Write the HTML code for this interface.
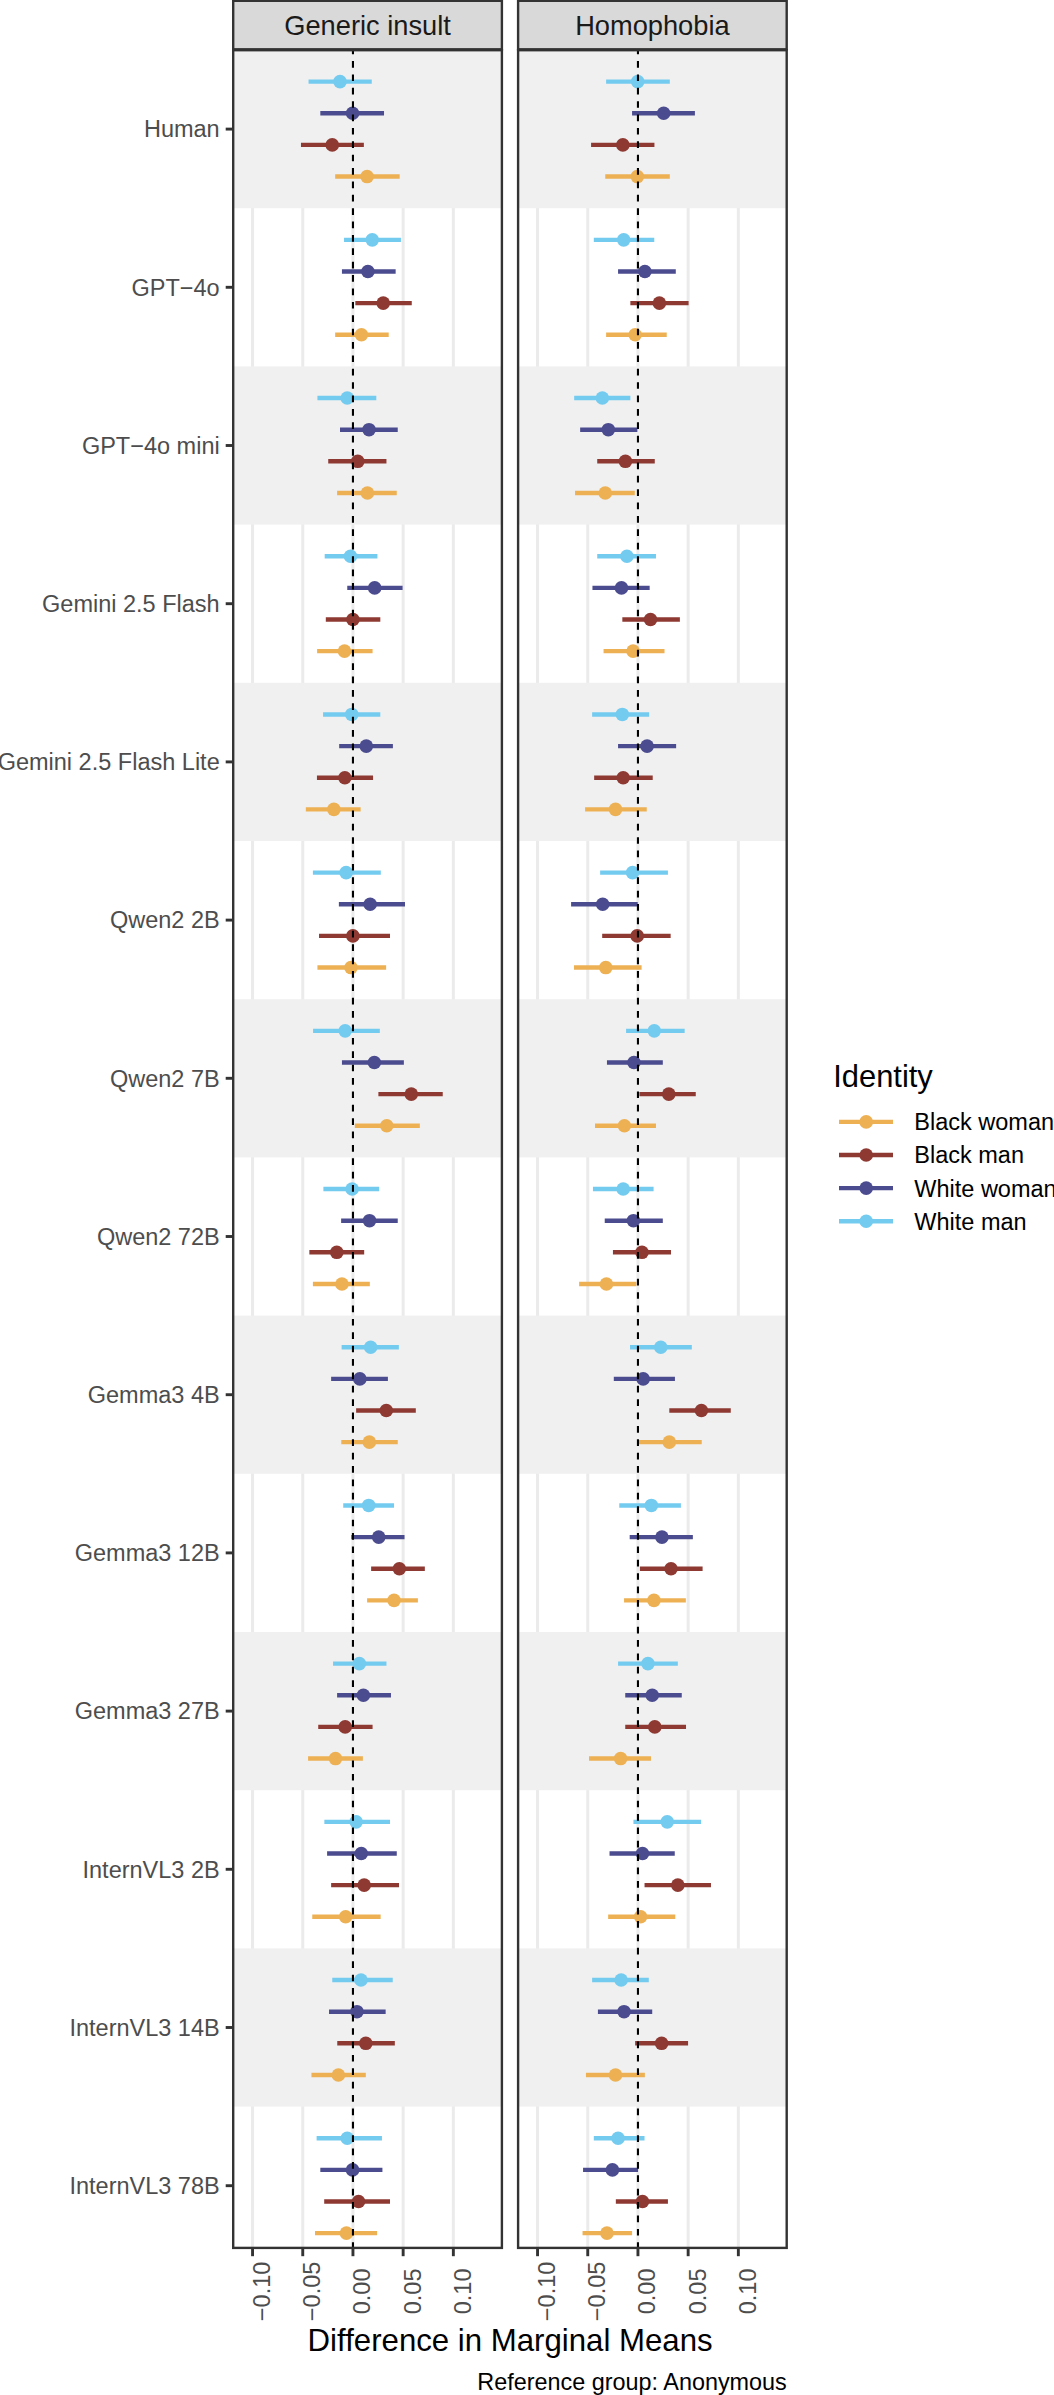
<!DOCTYPE html>
<html><head><meta charset="utf-8"><style>
html,body{margin:0;padding:0;background:#fff;width:1054px;height:2395px;overflow:hidden}
svg text{font-family:"Liberation Sans", sans-serif}
</style></head><body>
<svg width="1054" height="2395" viewBox="0 0 1054 2395" style="display:block">
<rect x="0" y="0" width="1054" height="2395" fill="#fff"/>
<clipPath id="c0"><rect x="233.2" y="50.2" width="268.7" height="2197.7000000000003"/></clipPath>
<g clip-path="url(#c0)">
<line x1="252.55" y1="50.2" x2="252.55" y2="2247.9" stroke="#EBEBEB" stroke-width="3.0"/>
<line x1="302.75" y1="50.2" x2="302.75" y2="2247.9" stroke="#EBEBEB" stroke-width="3.0"/>
<line x1="352.95" y1="50.2" x2="352.95" y2="2247.9" stroke="#EBEBEB" stroke-width="3.0"/>
<line x1="403.15" y1="50.2" x2="403.15" y2="2247.9" stroke="#EBEBEB" stroke-width="3.0"/>
<line x1="453.35" y1="50.2" x2="453.35" y2="2247.9" stroke="#EBEBEB" stroke-width="3.0"/>
<rect x="233.2" y="50.00" width="268.7" height="158.20" fill="#F0F0F0"/>
<rect x="233.2" y="366.40" width="268.7" height="158.20" fill="#F0F0F0"/>
<rect x="233.2" y="682.80" width="268.7" height="158.20" fill="#F0F0F0"/>
<rect x="233.2" y="999.20" width="268.7" height="158.20" fill="#F0F0F0"/>
<rect x="233.2" y="1315.60" width="268.7" height="158.20" fill="#F0F0F0"/>
<rect x="233.2" y="1632.00" width="268.7" height="158.20" fill="#F0F0F0"/>
<rect x="233.2" y="1948.40" width="268.7" height="158.20" fill="#F0F0F0"/>
<line x1="308.55" y1="81.63" x2="371.77" y2="81.63" stroke="#74CBF0" stroke-width="4.4"/>
<circle cx="340.0" cy="81.63" r="6.8" fill="#74CBF0"/>
<line x1="320.32" y1="113.28" x2="384.03" y2="113.28" stroke="#4B4B8F" stroke-width="4.4"/>
<circle cx="352.58" cy="113.28" r="6.8" fill="#4B4B8F"/>
<line x1="300.97" y1="144.92" x2="363.87" y2="144.92" stroke="#8E3A33" stroke-width="4.4"/>
<circle cx="332.26" cy="144.92" r="6.8" fill="#8E3A33"/>
<line x1="335.16" y1="176.57" x2="399.68" y2="176.57" stroke="#EDB154" stroke-width="4.4"/>
<circle cx="367.1" cy="176.57" r="6.8" fill="#EDB154"/>
<line x1="344.03" y1="239.83" x2="400.97" y2="239.83" stroke="#74CBF0" stroke-width="4.4"/>
<circle cx="372.26" cy="239.83" r="6.8" fill="#74CBF0"/>
<line x1="341.94" y1="271.48" x2="395.65" y2="271.48" stroke="#4B4B8F" stroke-width="4.4"/>
<circle cx="367.9" cy="271.48" r="6.8" fill="#4B4B8F"/>
<line x1="355.32" y1="303.12" x2="411.77" y2="303.12" stroke="#8E3A33" stroke-width="4.4"/>
<circle cx="383.23" cy="303.12" r="6.8" fill="#8E3A33"/>
<line x1="335.16" y1="334.77" x2="388.71" y2="334.77" stroke="#EDB154" stroke-width="4.4"/>
<circle cx="361.45" cy="334.77" r="6.8" fill="#EDB154"/>
<line x1="317.42" y1="398.03" x2="376.29" y2="398.03" stroke="#74CBF0" stroke-width="4.4"/>
<circle cx="347.26" cy="398.03" r="6.8" fill="#74CBF0"/>
<line x1="340.0" y1="429.68" x2="397.74" y2="429.68" stroke="#4B4B8F" stroke-width="4.4"/>
<circle cx="369.03" cy="429.68" r="6.8" fill="#4B4B8F"/>
<line x1="328.23" y1="461.32" x2="386.45" y2="461.32" stroke="#8E3A33" stroke-width="4.4"/>
<circle cx="357.74" cy="461.32" r="6.8" fill="#8E3A33"/>
<line x1="337.1" y1="492.97" x2="396.77" y2="492.97" stroke="#EDB154" stroke-width="4.4"/>
<circle cx="367.42" cy="492.97" r="6.8" fill="#EDB154"/>
<line x1="324.68" y1="556.23" x2="377.42" y2="556.23" stroke="#74CBF0" stroke-width="4.4"/>
<circle cx="350.48" cy="556.23" r="6.8" fill="#74CBF0"/>
<line x1="347.26" y1="587.88" x2="402.58" y2="587.88" stroke="#4B4B8F" stroke-width="4.4"/>
<circle cx="374.68" cy="587.88" r="6.8" fill="#4B4B8F"/>
<line x1="325.81" y1="619.52" x2="380.32" y2="619.52" stroke="#8E3A33" stroke-width="4.4"/>
<circle cx="352.9" cy="619.52" r="6.8" fill="#8E3A33"/>
<line x1="317.1" y1="651.17" x2="372.58" y2="651.17" stroke="#EDB154" stroke-width="4.4"/>
<circle cx="344.52" cy="651.17" r="6.8" fill="#EDB154"/>
<line x1="323.06" y1="714.43" x2="380.32" y2="714.43" stroke="#74CBF0" stroke-width="4.4"/>
<circle cx="351.77" cy="714.43" r="6.8" fill="#74CBF0"/>
<line x1="339.19" y1="746.08" x2="392.9" y2="746.08" stroke="#4B4B8F" stroke-width="4.4"/>
<circle cx="366.29" cy="746.08" r="6.8" fill="#4B4B8F"/>
<line x1="316.94" y1="777.72" x2="373.06" y2="777.72" stroke="#8E3A33" stroke-width="4.4"/>
<circle cx="344.84" cy="777.72" r="6.8" fill="#8E3A33"/>
<line x1="305.81" y1="809.37" x2="360.65" y2="809.37" stroke="#EDB154" stroke-width="4.4"/>
<circle cx="333.87" cy="809.37" r="6.8" fill="#EDB154"/>
<line x1="312.9" y1="872.63" x2="380.81" y2="872.63" stroke="#74CBF0" stroke-width="4.4"/>
<circle cx="346.13" cy="872.63" r="6.8" fill="#74CBF0"/>
<line x1="338.87" y1="904.28" x2="405.0" y2="904.28" stroke="#4B4B8F" stroke-width="4.4"/>
<circle cx="370.16" cy="904.28" r="6.8" fill="#4B4B8F"/>
<line x1="319.03" y1="935.92" x2="390.0" y2="935.92" stroke="#8E3A33" stroke-width="4.4"/>
<circle cx="352.9" cy="935.92" r="6.8" fill="#8E3A33"/>
<line x1="317.42" y1="967.57" x2="386.13" y2="967.57" stroke="#EDB154" stroke-width="4.4"/>
<circle cx="350.97" cy="967.57" r="6.8" fill="#EDB154"/>
<line x1="313.06" y1="1030.83" x2="379.84" y2="1030.83" stroke="#74CBF0" stroke-width="4.4"/>
<circle cx="345.16" cy="1030.83" r="6.8" fill="#74CBF0"/>
<line x1="341.94" y1="1062.48" x2="403.87" y2="1062.48" stroke="#4B4B8F" stroke-width="4.4"/>
<circle cx="374.35" cy="1062.48" r="6.8" fill="#4B4B8F"/>
<line x1="378.39" y1="1094.12" x2="442.74" y2="1094.12" stroke="#8E3A33" stroke-width="4.4"/>
<circle cx="411.29" cy="1094.12" r="6.8" fill="#8E3A33"/>
<line x1="354.84" y1="1125.77" x2="419.84" y2="1125.77" stroke="#EDB154" stroke-width="4.4"/>
<circle cx="386.77" cy="1125.77" r="6.8" fill="#EDB154"/>
<line x1="323.39" y1="1189.03" x2="379.19" y2="1189.03" stroke="#74CBF0" stroke-width="4.4"/>
<circle cx="352.1" cy="1189.03" r="6.8" fill="#74CBF0"/>
<line x1="341.13" y1="1220.68" x2="397.74" y2="1220.68" stroke="#4B4B8F" stroke-width="4.4"/>
<circle cx="369.52" cy="1220.68" r="6.8" fill="#4B4B8F"/>
<line x1="309.35" y1="1252.32" x2="364.19" y2="1252.32" stroke="#8E3A33" stroke-width="4.4"/>
<circle cx="336.77" cy="1252.32" r="6.8" fill="#8E3A33"/>
<line x1="312.9" y1="1283.97" x2="369.84" y2="1283.97" stroke="#EDB154" stroke-width="4.4"/>
<circle cx="341.94" cy="1283.97" r="6.8" fill="#EDB154"/>
<line x1="341.61" y1="1347.23" x2="398.87" y2="1347.23" stroke="#74CBF0" stroke-width="4.4"/>
<circle cx="370.65" cy="1347.23" r="6.8" fill="#74CBF0"/>
<line x1="331.13" y1="1378.88" x2="387.9" y2="1378.88" stroke="#4B4B8F" stroke-width="4.4"/>
<circle cx="359.84" cy="1378.88" r="6.8" fill="#4B4B8F"/>
<line x1="356.13" y1="1410.52" x2="415.81" y2="1410.52" stroke="#8E3A33" stroke-width="4.4"/>
<circle cx="386.29" cy="1410.52" r="6.8" fill="#8E3A33"/>
<line x1="341.29" y1="1442.17" x2="397.74" y2="1442.17" stroke="#EDB154" stroke-width="4.4"/>
<circle cx="369.35" cy="1442.17" r="6.8" fill="#EDB154"/>
<line x1="343.23" y1="1505.43" x2="394.03" y2="1505.43" stroke="#74CBF0" stroke-width="4.4"/>
<circle cx="368.71" cy="1505.43" r="6.8" fill="#74CBF0"/>
<line x1="351.29" y1="1537.08" x2="404.52" y2="1537.08" stroke="#4B4B8F" stroke-width="4.4"/>
<circle cx="378.71" cy="1537.08" r="6.8" fill="#4B4B8F"/>
<line x1="371.13" y1="1568.72" x2="424.84" y2="1568.72" stroke="#8E3A33" stroke-width="4.4"/>
<circle cx="399.35" cy="1568.72" r="6.8" fill="#8E3A33"/>
<line x1="367.1" y1="1600.37" x2="417.9" y2="1600.37" stroke="#EDB154" stroke-width="4.4"/>
<circle cx="394.03" cy="1600.37" r="6.8" fill="#EDB154"/>
<line x1="333.06" y1="1663.63" x2="386.45" y2="1663.63" stroke="#74CBF0" stroke-width="4.4"/>
<circle cx="359.35" cy="1663.63" r="6.8" fill="#74CBF0"/>
<line x1="337.1" y1="1695.28" x2="390.97" y2="1695.28" stroke="#4B4B8F" stroke-width="4.4"/>
<circle cx="363.39" cy="1695.28" r="6.8" fill="#4B4B8F"/>
<line x1="318.23" y1="1726.92" x2="372.58" y2="1726.92" stroke="#8E3A33" stroke-width="4.4"/>
<circle cx="345.16" cy="1726.92" r="6.8" fill="#8E3A33"/>
<line x1="308.06" y1="1758.57" x2="362.9" y2="1758.57" stroke="#EDB154" stroke-width="4.4"/>
<circle cx="335.48" cy="1758.57" r="6.8" fill="#EDB154"/>
<line x1="324.35" y1="1821.83" x2="390.0" y2="1821.83" stroke="#74CBF0" stroke-width="4.4"/>
<circle cx="356.13" cy="1821.83" r="6.8" fill="#74CBF0"/>
<line x1="327.1" y1="1853.48" x2="396.77" y2="1853.48" stroke="#4B4B8F" stroke-width="4.4"/>
<circle cx="361.29" cy="1853.48" r="6.8" fill="#4B4B8F"/>
<line x1="331.13" y1="1885.12" x2="399.03" y2="1885.12" stroke="#8E3A33" stroke-width="4.4"/>
<circle cx="364.19" cy="1885.12" r="6.8" fill="#8E3A33"/>
<line x1="312.26" y1="1916.77" x2="380.65" y2="1916.77" stroke="#EDB154" stroke-width="4.4"/>
<circle cx="345.65" cy="1916.77" r="6.8" fill="#EDB154"/>
<line x1="332.26" y1="1980.03" x2="392.74" y2="1980.03" stroke="#74CBF0" stroke-width="4.4"/>
<circle cx="360.97" cy="1980.03" r="6.8" fill="#74CBF0"/>
<line x1="329.03" y1="2011.68" x2="385.65" y2="2011.68" stroke="#4B4B8F" stroke-width="4.4"/>
<circle cx="356.94" cy="2011.68" r="6.8" fill="#4B4B8F"/>
<line x1="337.26" y1="2043.32" x2="394.84" y2="2043.32" stroke="#8E3A33" stroke-width="4.4"/>
<circle cx="365.81" cy="2043.32" r="6.8" fill="#8E3A33"/>
<line x1="311.45" y1="2074.97" x2="365.81" y2="2074.97" stroke="#EDB154" stroke-width="4.4"/>
<circle cx="338.39" cy="2074.97" r="6.8" fill="#EDB154"/>
<line x1="316.61" y1="2138.23" x2="381.94" y2="2138.23" stroke="#74CBF0" stroke-width="4.4"/>
<circle cx="347.26" cy="2138.23" r="6.8" fill="#74CBF0"/>
<line x1="320.32" y1="2169.88" x2="382.42" y2="2169.88" stroke="#4B4B8F" stroke-width="4.4"/>
<circle cx="352.58" cy="2169.88" r="6.8" fill="#4B4B8F"/>
<line x1="324.19" y1="2201.52" x2="390.0" y2="2201.52" stroke="#8E3A33" stroke-width="4.4"/>
<circle cx="358.55" cy="2201.52" r="6.8" fill="#8E3A33"/>
<line x1="315.0" y1="2233.17" x2="377.1" y2="2233.17" stroke="#EDB154" stroke-width="4.4"/>
<circle cx="346.45" cy="2233.17" r="6.8" fill="#EDB154"/>
<line x1="352.95" y1="50.2" x2="352.95" y2="2247.9" stroke="#000" stroke-width="2.1" stroke-dasharray="6.7 6.682" stroke-dashoffset="2.582"/>
</g>
<rect x="233.2" y="50.2" width="268.70" height="2197.70" fill="none" stroke="#333333" stroke-width="2.4"/>
<rect x="233.2" y="0.8" width="268.70" height="48.50" fill="#D9D9D9" stroke="#333333" stroke-width="2.4"/>
<text x="367.55" y="34.9" font-size="27.25" fill="#1A1A1A" text-anchor="middle" font-family='"Liberation Sans", sans-serif'>Generic insult</text>
<line x1="252.55" y1="2247.9" x2="252.55" y2="2256.2000000000003" stroke="#333333" stroke-width="2.9"/>
<text transform="translate(269.95,2291.4) rotate(-90)" font-size="23.5" fill="#4D4D4D" text-anchor="middle" font-family='"Liberation Sans", sans-serif'>−0.10</text>
<line x1="302.75" y1="2247.9" x2="302.75" y2="2256.2000000000003" stroke="#333333" stroke-width="2.9"/>
<text transform="translate(320.15,2291.4) rotate(-90)" font-size="23.5" fill="#4D4D4D" text-anchor="middle" font-family='"Liberation Sans", sans-serif'>−0.05</text>
<line x1="352.95" y1="2247.9" x2="352.95" y2="2256.2000000000003" stroke="#333333" stroke-width="2.9"/>
<text transform="translate(370.35,2291.4) rotate(-90)" font-size="23.5" fill="#4D4D4D" text-anchor="middle" font-family='"Liberation Sans", sans-serif'>0.00</text>
<line x1="403.15" y1="2247.9" x2="403.15" y2="2256.2000000000003" stroke="#333333" stroke-width="2.9"/>
<text transform="translate(420.55,2291.4) rotate(-90)" font-size="23.5" fill="#4D4D4D" text-anchor="middle" font-family='"Liberation Sans", sans-serif'>0.05</text>
<line x1="453.35" y1="2247.9" x2="453.35" y2="2256.2000000000003" stroke="#333333" stroke-width="2.9"/>
<text transform="translate(470.75,2291.4) rotate(-90)" font-size="23.5" fill="#4D4D4D" text-anchor="middle" font-family='"Liberation Sans", sans-serif'>0.10</text>
<clipPath id="c1"><rect x="518.1" y="50.2" width="268.6" height="2197.7000000000003"/></clipPath>
<g clip-path="url(#c1)">
<line x1="537.55" y1="50.2" x2="537.55" y2="2247.9" stroke="#EBEBEB" stroke-width="3.0"/>
<line x1="587.75" y1="50.2" x2="587.75" y2="2247.9" stroke="#EBEBEB" stroke-width="3.0"/>
<line x1="637.95" y1="50.2" x2="637.95" y2="2247.9" stroke="#EBEBEB" stroke-width="3.0"/>
<line x1="688.15" y1="50.2" x2="688.15" y2="2247.9" stroke="#EBEBEB" stroke-width="3.0"/>
<line x1="738.35" y1="50.2" x2="738.35" y2="2247.9" stroke="#EBEBEB" stroke-width="3.0"/>
<rect x="518.1" y="50.00" width="268.6" height="158.20" fill="#F0F0F0"/>
<rect x="518.1" y="366.40" width="268.6" height="158.20" fill="#F0F0F0"/>
<rect x="518.1" y="682.80" width="268.6" height="158.20" fill="#F0F0F0"/>
<rect x="518.1" y="999.20" width="268.6" height="158.20" fill="#F0F0F0"/>
<rect x="518.1" y="1315.60" width="268.6" height="158.20" fill="#F0F0F0"/>
<rect x="518.1" y="1632.00" width="268.6" height="158.20" fill="#F0F0F0"/>
<rect x="518.1" y="1948.40" width="268.6" height="158.20" fill="#F0F0F0"/>
<line x1="606.11" y1="81.63" x2="669.81" y2="81.63" stroke="#74CBF0" stroke-width="4.4"/>
<circle cx="637.7" cy="81.63" r="6.8" fill="#74CBF0"/>
<line x1="632.07" y1="113.28" x2="694.91" y2="113.28" stroke="#4B4B8F" stroke-width="4.4"/>
<circle cx="663.66" cy="113.28" r="6.8" fill="#4B4B8F"/>
<line x1="591.08" y1="144.92" x2="654.44" y2="144.92" stroke="#8E3A33" stroke-width="4.4"/>
<circle cx="622.85" cy="144.92" r="6.8" fill="#8E3A33"/>
<line x1="605.26" y1="176.57" x2="669.81" y2="176.57" stroke="#EDB154" stroke-width="4.4"/>
<circle cx="637.36" cy="176.57" r="6.8" fill="#EDB154"/>
<line x1="593.81" y1="239.83" x2="654.27" y2="239.83" stroke="#74CBF0" stroke-width="4.4"/>
<circle cx="623.7" cy="239.83" r="6.8" fill="#74CBF0"/>
<line x1="618.06" y1="271.48" x2="675.79" y2="271.48" stroke="#4B4B8F" stroke-width="4.4"/>
<circle cx="644.88" cy="271.48" r="6.8" fill="#4B4B8F"/>
<line x1="630.36" y1="303.12" x2="688.6" y2="303.12" stroke="#8E3A33" stroke-width="4.4"/>
<circle cx="659.39" cy="303.12" r="6.8" fill="#8E3A33"/>
<line x1="606.11" y1="334.77" x2="666.74" y2="334.77" stroke="#EDB154" stroke-width="4.4"/>
<circle cx="635.14" cy="334.77" r="6.8" fill="#EDB154"/>
<line x1="574.17" y1="398.03" x2="630.36" y2="398.03" stroke="#74CBF0" stroke-width="4.4"/>
<circle cx="602.35" cy="398.03" r="6.8" fill="#74CBF0"/>
<line x1="580.15" y1="429.68" x2="637.36" y2="429.68" stroke="#4B4B8F" stroke-width="4.4"/>
<circle cx="608.33" cy="429.68" r="6.8" fill="#4B4B8F"/>
<line x1="597.23" y1="461.32" x2="654.78" y2="461.32" stroke="#8E3A33" stroke-width="4.4"/>
<circle cx="625.41" cy="461.32" r="6.8" fill="#8E3A33"/>
<line x1="575.03" y1="492.97" x2="634.8" y2="492.97" stroke="#EDB154" stroke-width="4.4"/>
<circle cx="605.26" cy="492.97" r="6.8" fill="#EDB154"/>
<line x1="597.23" y1="556.23" x2="655.98" y2="556.23" stroke="#74CBF0" stroke-width="4.4"/>
<circle cx="626.94" cy="556.23" r="6.8" fill="#74CBF0"/>
<line x1="592.45" y1="587.88" x2="649.66" y2="587.88" stroke="#4B4B8F" stroke-width="4.4"/>
<circle cx="621.48" cy="587.88" r="6.8" fill="#4B4B8F"/>
<line x1="622.33" y1="619.52" x2="679.89" y2="619.52" stroke="#8E3A33" stroke-width="4.4"/>
<circle cx="650.51" cy="619.52" r="6.8" fill="#8E3A33"/>
<line x1="603.55" y1="651.17" x2="664.52" y2="651.17" stroke="#EDB154" stroke-width="4.4"/>
<circle cx="633.09" cy="651.17" r="6.8" fill="#EDB154"/>
<line x1="592.11" y1="714.43" x2="649.15" y2="714.43" stroke="#74CBF0" stroke-width="4.4"/>
<circle cx="622.33" cy="714.43" r="6.8" fill="#74CBF0"/>
<line x1="618.06" y1="746.08" x2="676.13" y2="746.08" stroke="#4B4B8F" stroke-width="4.4"/>
<circle cx="647.1" cy="746.08" r="6.8" fill="#4B4B8F"/>
<line x1="594.16" y1="777.72" x2="652.73" y2="777.72" stroke="#8E3A33" stroke-width="4.4"/>
<circle cx="623.19" cy="777.72" r="6.8" fill="#8E3A33"/>
<line x1="585.1" y1="809.37" x2="646.76" y2="809.37" stroke="#EDB154" stroke-width="4.4"/>
<circle cx="615.5" cy="809.37" r="6.8" fill="#EDB154"/>
<line x1="600.13" y1="872.63" x2="667.93" y2="872.63" stroke="#74CBF0" stroke-width="4.4"/>
<circle cx="632.58" cy="872.63" r="6.8" fill="#74CBF0"/>
<line x1="571.1" y1="904.28" x2="637.7" y2="904.28" stroke="#4B4B8F" stroke-width="4.4"/>
<circle cx="602.69" cy="904.28" r="6.8" fill="#4B4B8F"/>
<line x1="602.18" y1="935.92" x2="670.66" y2="935.92" stroke="#8E3A33" stroke-width="4.4"/>
<circle cx="637.19" cy="935.92" r="6.8" fill="#8E3A33"/>
<line x1="574.0" y1="967.57" x2="641.63" y2="967.57" stroke="#EDB154" stroke-width="4.4"/>
<circle cx="605.77" cy="967.57" r="6.8" fill="#EDB154"/>
<line x1="626.09" y1="1030.83" x2="684.67" y2="1030.83" stroke="#74CBF0" stroke-width="4.4"/>
<circle cx="654.27" cy="1030.83" r="6.8" fill="#74CBF0"/>
<line x1="606.96" y1="1062.48" x2="662.81" y2="1062.48" stroke="#4B4B8F" stroke-width="4.4"/>
<circle cx="633.95" cy="1062.48" r="6.8" fill="#4B4B8F"/>
<line x1="639.41" y1="1094.12" x2="695.77" y2="1094.12" stroke="#8E3A33" stroke-width="4.4"/>
<circle cx="668.79" cy="1094.12" r="6.8" fill="#8E3A33"/>
<line x1="595.01" y1="1125.77" x2="655.98" y2="1125.77" stroke="#EDB154" stroke-width="4.4"/>
<circle cx="624.38" cy="1125.77" r="6.8" fill="#EDB154"/>
<line x1="592.96" y1="1189.03" x2="653.59" y2="1189.03" stroke="#74CBF0" stroke-width="4.4"/>
<circle cx="623.19" cy="1189.03" r="6.8" fill="#74CBF0"/>
<line x1="604.74" y1="1220.68" x2="662.81" y2="1220.68" stroke="#4B4B8F" stroke-width="4.4"/>
<circle cx="633.43" cy="1220.68" r="6.8" fill="#4B4B8F"/>
<line x1="612.94" y1="1252.32" x2="671.01" y2="1252.32" stroke="#8E3A33" stroke-width="4.4"/>
<circle cx="641.97" cy="1252.32" r="6.8" fill="#8E3A33"/>
<line x1="579.13" y1="1283.97" x2="636.34" y2="1283.97" stroke="#EDB154" stroke-width="4.4"/>
<circle cx="606.45" cy="1283.97" r="6.8" fill="#EDB154"/>
<line x1="630.02" y1="1347.23" x2="691.84" y2="1347.23" stroke="#74CBF0" stroke-width="4.4"/>
<circle cx="660.76" cy="1347.23" r="6.8" fill="#74CBF0"/>
<line x1="613.8" y1="1378.88" x2="674.93" y2="1378.88" stroke="#4B4B8F" stroke-width="4.4"/>
<circle cx="643.17" cy="1378.88" r="6.8" fill="#4B4B8F"/>
<line x1="669.3" y1="1410.52" x2="730.78" y2="1410.52" stroke="#8E3A33" stroke-width="4.4"/>
<circle cx="701.4" cy="1410.52" r="6.8" fill="#8E3A33"/>
<line x1="638.05" y1="1442.17" x2="701.75" y2="1442.17" stroke="#EDB154" stroke-width="4.4"/>
<circle cx="669.3" cy="1442.17" r="6.8" fill="#EDB154"/>
<line x1="619.26" y1="1505.43" x2="680.91" y2="1505.43" stroke="#74CBF0" stroke-width="4.4"/>
<circle cx="651.37" cy="1505.43" r="6.8" fill="#74CBF0"/>
<line x1="629.68" y1="1537.08" x2="692.87" y2="1537.08" stroke="#4B4B8F" stroke-width="4.4"/>
<circle cx="661.95" cy="1537.08" r="6.8" fill="#4B4B8F"/>
<line x1="639.92" y1="1568.72" x2="702.6" y2="1568.72" stroke="#8E3A33" stroke-width="4.4"/>
<circle cx="671.01" cy="1568.72" r="6.8" fill="#8E3A33"/>
<line x1="624.04" y1="1600.37" x2="685.86" y2="1600.37" stroke="#EDB154" stroke-width="4.4"/>
<circle cx="653.93" cy="1600.37" r="6.8" fill="#EDB154"/>
<line x1="618.06" y1="1663.63" x2="677.84" y2="1663.63" stroke="#74CBF0" stroke-width="4.4"/>
<circle cx="647.95" cy="1663.63" r="6.8" fill="#74CBF0"/>
<line x1="625.24" y1="1695.28" x2="681.76" y2="1695.28" stroke="#4B4B8F" stroke-width="4.4"/>
<circle cx="652.22" cy="1695.28" r="6.8" fill="#4B4B8F"/>
<line x1="625.24" y1="1726.92" x2="686.03" y2="1726.92" stroke="#8E3A33" stroke-width="4.4"/>
<circle cx="654.78" cy="1726.92" r="6.8" fill="#8E3A33"/>
<line x1="589.03" y1="1758.57" x2="651.02" y2="1758.57" stroke="#EDB154" stroke-width="4.4"/>
<circle cx="620.63" cy="1758.57" r="6.8" fill="#EDB154"/>
<line x1="633.43" y1="1821.83" x2="701.06" y2="1821.83" stroke="#74CBF0" stroke-width="4.4"/>
<circle cx="667.25" cy="1821.83" r="6.8" fill="#74CBF0"/>
<line x1="609.53" y1="1853.48" x2="674.76" y2="1853.48" stroke="#4B4B8F" stroke-width="4.4"/>
<circle cx="642.49" cy="1853.48" r="6.8" fill="#4B4B8F"/>
<line x1="644.54" y1="1885.12" x2="710.97" y2="1885.12" stroke="#8E3A33" stroke-width="4.4"/>
<circle cx="677.84" cy="1885.12" r="6.8" fill="#8E3A33"/>
<line x1="608.16" y1="1916.77" x2="675.28" y2="1916.77" stroke="#EDB154" stroke-width="4.4"/>
<circle cx="640.61" cy="1916.77" r="6.8" fill="#EDB154"/>
<line x1="592.11" y1="1980.03" x2="648.8" y2="1980.03" stroke="#74CBF0" stroke-width="4.4"/>
<circle cx="621.14" cy="1980.03" r="6.8" fill="#74CBF0"/>
<line x1="597.91" y1="2011.68" x2="652.22" y2="2011.68" stroke="#4B4B8F" stroke-width="4.4"/>
<circle cx="624.04" cy="2011.68" r="6.8" fill="#4B4B8F"/>
<line x1="635.14" y1="2043.32" x2="688.08" y2="2043.32" stroke="#8E3A33" stroke-width="4.4"/>
<circle cx="661.61" cy="2043.32" r="6.8" fill="#8E3A33"/>
<line x1="585.96" y1="2074.97" x2="644.88" y2="2074.97" stroke="#EDB154" stroke-width="4.4"/>
<circle cx="615.5" cy="2074.97" r="6.8" fill="#EDB154"/>
<line x1="593.81" y1="2138.23" x2="644.54" y2="2138.23" stroke="#74CBF0" stroke-width="4.4"/>
<circle cx="618.06" cy="2138.23" r="6.8" fill="#74CBF0"/>
<line x1="583.06" y1="2169.88" x2="638.05" y2="2169.88" stroke="#4B4B8F" stroke-width="4.4"/>
<circle cx="612.43" cy="2169.88" r="6.8" fill="#4B4B8F"/>
<line x1="615.84" y1="2201.52" x2="667.93" y2="2201.52" stroke="#8E3A33" stroke-width="4.4"/>
<circle cx="642.49" cy="2201.52" r="6.8" fill="#8E3A33"/>
<line x1="582.54" y1="2233.17" x2="632.07" y2="2233.17" stroke="#EDB154" stroke-width="4.4"/>
<circle cx="606.96" cy="2233.17" r="6.8" fill="#EDB154"/>
<line x1="637.95" y1="50.2" x2="637.95" y2="2247.9" stroke="#000" stroke-width="2.1" stroke-dasharray="6.7 6.682" stroke-dashoffset="2.582"/>
</g>
<rect x="518.1" y="50.2" width="268.60" height="2197.70" fill="none" stroke="#333333" stroke-width="2.4"/>
<rect x="518.1" y="0.8" width="268.60" height="48.50" fill="#D9D9D9" stroke="#333333" stroke-width="2.4"/>
<text x="652.40" y="34.9" font-size="27.25" fill="#1A1A1A" text-anchor="middle" font-family='"Liberation Sans", sans-serif'>Homophobia</text>
<line x1="537.55" y1="2247.9" x2="537.55" y2="2256.2000000000003" stroke="#333333" stroke-width="2.9"/>
<text transform="translate(554.95,2291.4) rotate(-90)" font-size="23.5" fill="#4D4D4D" text-anchor="middle" font-family='"Liberation Sans", sans-serif'>−0.10</text>
<line x1="587.75" y1="2247.9" x2="587.75" y2="2256.2000000000003" stroke="#333333" stroke-width="2.9"/>
<text transform="translate(605.15,2291.4) rotate(-90)" font-size="23.5" fill="#4D4D4D" text-anchor="middle" font-family='"Liberation Sans", sans-serif'>−0.05</text>
<line x1="637.95" y1="2247.9" x2="637.95" y2="2256.2000000000003" stroke="#333333" stroke-width="2.9"/>
<text transform="translate(655.35,2291.4) rotate(-90)" font-size="23.5" fill="#4D4D4D" text-anchor="middle" font-family='"Liberation Sans", sans-serif'>0.00</text>
<line x1="688.15" y1="2247.9" x2="688.15" y2="2256.2000000000003" stroke="#333333" stroke-width="2.9"/>
<text transform="translate(705.55,2291.4) rotate(-90)" font-size="23.5" fill="#4D4D4D" text-anchor="middle" font-family='"Liberation Sans", sans-serif'>0.05</text>
<line x1="738.35" y1="2247.9" x2="738.35" y2="2256.2000000000003" stroke="#333333" stroke-width="2.9"/>
<text transform="translate(755.75,2291.4) rotate(-90)" font-size="23.5" fill="#4D4D4D" text-anchor="middle" font-family='"Liberation Sans", sans-serif'>0.10</text>
<line x1="225.7" y1="129.10" x2="233.2" y2="129.10" stroke="#333333" stroke-width="2.9"/>
<text x="219.7" y="137.40" font-size="23.5" fill="#4D4D4D" text-anchor="end" font-family='"Liberation Sans", sans-serif'>Human</text>
<line x1="225.7" y1="287.30" x2="233.2" y2="287.30" stroke="#333333" stroke-width="2.9"/>
<text x="219.7" y="295.60" font-size="23.5" fill="#4D4D4D" text-anchor="end" font-family='"Liberation Sans", sans-serif'>GPT−4o</text>
<line x1="225.7" y1="445.50" x2="233.2" y2="445.50" stroke="#333333" stroke-width="2.9"/>
<text x="219.7" y="453.80" font-size="23.5" fill="#4D4D4D" text-anchor="end" font-family='"Liberation Sans", sans-serif'>GPT−4o mini</text>
<line x1="225.7" y1="603.70" x2="233.2" y2="603.70" stroke="#333333" stroke-width="2.9"/>
<text x="219.7" y="612.00" font-size="23.5" fill="#4D4D4D" text-anchor="end" font-family='"Liberation Sans", sans-serif'>Gemini 2.5 Flash</text>
<line x1="225.7" y1="761.90" x2="233.2" y2="761.90" stroke="#333333" stroke-width="2.9"/>
<text x="219.7" y="770.20" font-size="23.5" fill="#4D4D4D" text-anchor="end" font-family='"Liberation Sans", sans-serif'>Gemini 2.5 Flash Lite</text>
<line x1="225.7" y1="920.10" x2="233.2" y2="920.10" stroke="#333333" stroke-width="2.9"/>
<text x="219.7" y="928.40" font-size="23.5" fill="#4D4D4D" text-anchor="end" font-family='"Liberation Sans", sans-serif'>Qwen2 2B</text>
<line x1="225.7" y1="1078.30" x2="233.2" y2="1078.30" stroke="#333333" stroke-width="2.9"/>
<text x="219.7" y="1086.60" font-size="23.5" fill="#4D4D4D" text-anchor="end" font-family='"Liberation Sans", sans-serif'>Qwen2 7B</text>
<line x1="225.7" y1="1236.50" x2="233.2" y2="1236.50" stroke="#333333" stroke-width="2.9"/>
<text x="219.7" y="1244.80" font-size="23.5" fill="#4D4D4D" text-anchor="end" font-family='"Liberation Sans", sans-serif'>Qwen2 72B</text>
<line x1="225.7" y1="1394.70" x2="233.2" y2="1394.70" stroke="#333333" stroke-width="2.9"/>
<text x="219.7" y="1403.00" font-size="23.5" fill="#4D4D4D" text-anchor="end" font-family='"Liberation Sans", sans-serif'>Gemma3 4B</text>
<line x1="225.7" y1="1552.90" x2="233.2" y2="1552.90" stroke="#333333" stroke-width="2.9"/>
<text x="219.7" y="1561.20" font-size="23.5" fill="#4D4D4D" text-anchor="end" font-family='"Liberation Sans", sans-serif'>Gemma3 12B</text>
<line x1="225.7" y1="1711.10" x2="233.2" y2="1711.10" stroke="#333333" stroke-width="2.9"/>
<text x="219.7" y="1719.40" font-size="23.5" fill="#4D4D4D" text-anchor="end" font-family='"Liberation Sans", sans-serif'>Gemma3 27B</text>
<line x1="225.7" y1="1869.30" x2="233.2" y2="1869.30" stroke="#333333" stroke-width="2.9"/>
<text x="219.7" y="1877.60" font-size="23.5" fill="#4D4D4D" text-anchor="end" font-family='"Liberation Sans", sans-serif'>InternVL3 2B</text>
<line x1="225.7" y1="2027.50" x2="233.2" y2="2027.50" stroke="#333333" stroke-width="2.9"/>
<text x="219.7" y="2035.80" font-size="23.5" fill="#4D4D4D" text-anchor="end" font-family='"Liberation Sans", sans-serif'>InternVL3 14B</text>
<line x1="225.7" y1="2185.70" x2="233.2" y2="2185.70" stroke="#333333" stroke-width="2.9"/>
<text x="219.7" y="2194.00" font-size="23.5" fill="#4D4D4D" text-anchor="end" font-family='"Liberation Sans", sans-serif'>InternVL3 78B</text>
<text x="307.6" y="2351.3" font-size="31.2" fill="#000" font-family='"Liberation Sans", sans-serif'>Difference in Marginal Means</text>
<text x="786.8" y="2389.8" font-size="23.4" fill="#000" text-anchor="end" font-family='"Liberation Sans", sans-serif'>Reference group: Anonymous</text>
<text x="833.2" y="1086.7" font-size="30.9" fill="#000" font-family='"Liberation Sans", sans-serif'>Identity</text>
<line x1="839" y1="1121.90" x2="893" y2="1121.90" stroke="#EDB154" stroke-width="4.4"/>
<circle cx="866.2" cy="1121.90" r="6.8" fill="#EDB154"/>
<text x="914.3" y="1130.30" font-size="23.5" fill="#000" font-family='"Liberation Sans", sans-serif'>Black woman</text>
<line x1="839" y1="1155.00" x2="893" y2="1155.00" stroke="#8E3A33" stroke-width="4.4"/>
<circle cx="866.2" cy="1155.00" r="6.8" fill="#8E3A33"/>
<text x="914.3" y="1163.40" font-size="23.5" fill="#000" font-family='"Liberation Sans", sans-serif'>Black man</text>
<line x1="839" y1="1188.10" x2="893" y2="1188.10" stroke="#4B4B8F" stroke-width="4.4"/>
<circle cx="866.2" cy="1188.10" r="6.8" fill="#4B4B8F"/>
<text x="914.3" y="1196.50" font-size="23.5" fill="#000" font-family='"Liberation Sans", sans-serif'>White woman</text>
<line x1="839" y1="1221.20" x2="893" y2="1221.20" stroke="#74CBF0" stroke-width="4.4"/>
<circle cx="866.2" cy="1221.20" r="6.8" fill="#74CBF0"/>
<text x="914.3" y="1229.60" font-size="23.5" fill="#000" font-family='"Liberation Sans", sans-serif'>White man</text>
</svg>
</body></html>
